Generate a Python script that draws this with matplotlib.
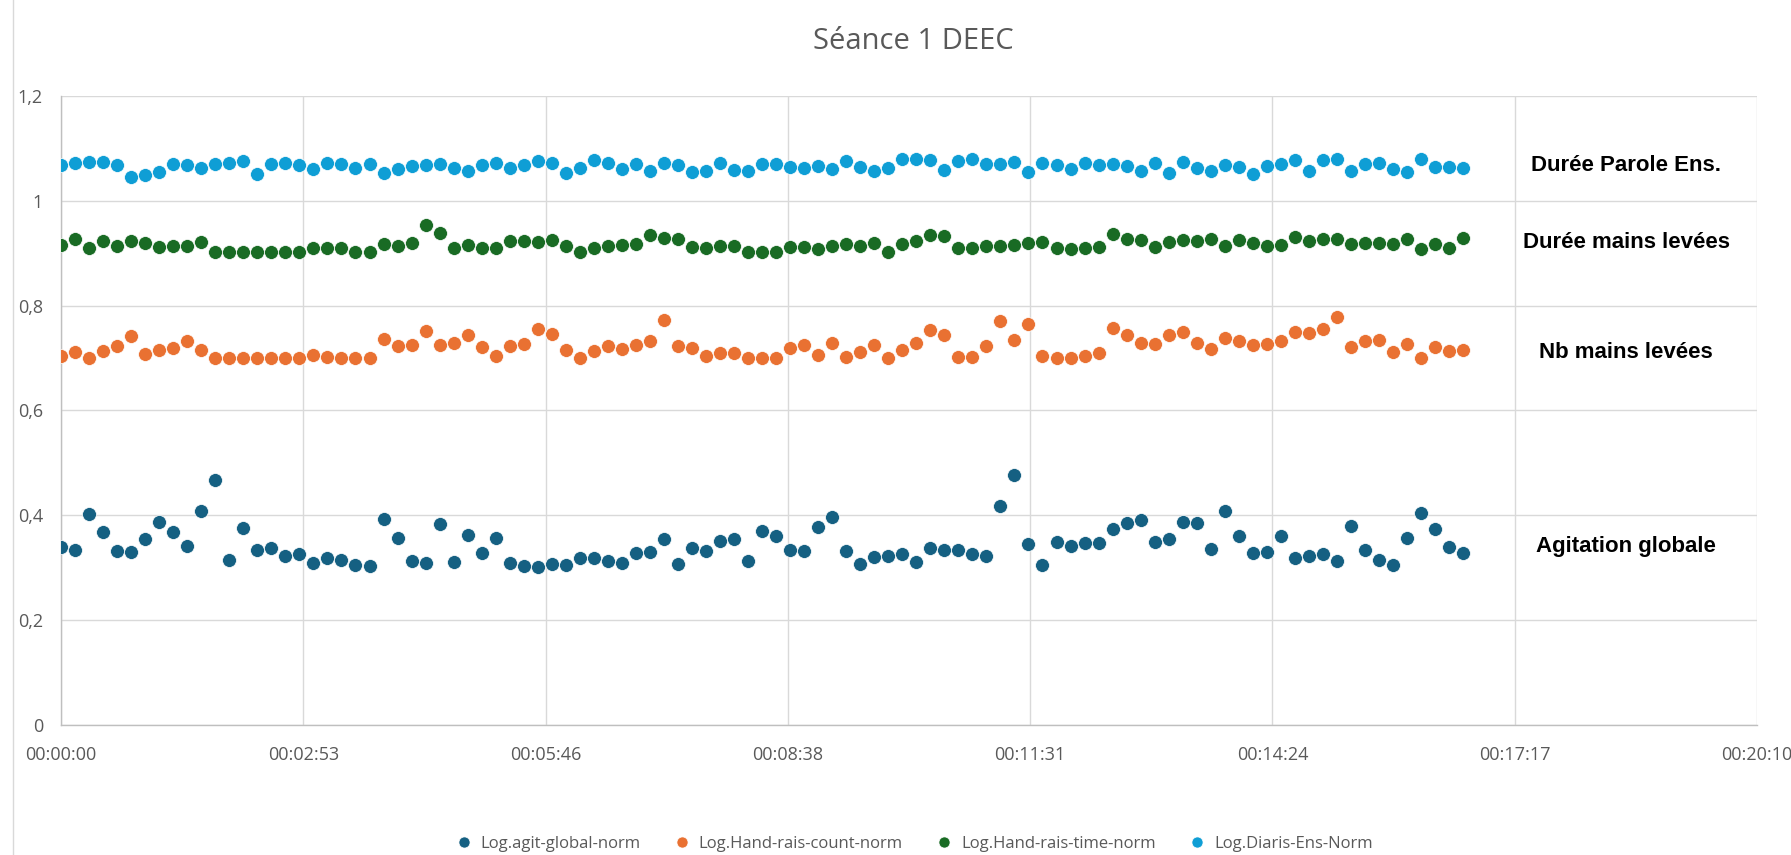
import numpy as np
import matplotlib
matplotlib.use("Agg")
import matplotlib.pyplot as plt
from matplotlib.ticker import MultipleLocator, FuncFormatter
from matplotlib.lines import Line2D

# valeurs (un point toutes les 10 s)
agit = [0.340, 0.333, 0.402, 0.368, 0.332, 0.329, 0.354, 0.387, 0.368, 0.341,
        0.407, 0.468, 0.315, 0.375, 0.333, 0.338, 0.322, 0.326, 0.309, 0.319,
        0.315, 0.305, 0.302, 0.392, 0.357, 0.312, 0.308, 0.383, 0.311, 0.362,
        0.327, 0.357, 0.309, 0.303, 0.301, 0.306, 0.305, 0.319, 0.319, 0.312,
        0.308, 0.328, 0.329, 0.355, 0.306, 0.338, 0.331, 0.351, 0.354, 0.313,
        0.369, 0.361, 0.334, 0.331, 0.378, 0.397, 0.332, 0.306, 0.321, 0.322,
        0.326, 0.311, 0.338, 0.333, 0.333, 0.326, 0.322, 0.418, 0.477, 0.345,
        0.304, 0.348, 0.341, 0.346, 0.346, 0.373, 0.385, 0.391, 0.348, 0.355,
        0.386, 0.385, 0.336, 0.408, 0.361, 0.327, 0.329, 0.360, 0.319, 0.322,
        0.326, 0.312, 0.380, 0.333, 0.315, 0.305, 0.356, 0.404, 0.373, 0.340,
        0.327]
hand_count = [0.704, 0.711, 0.699, 0.713, 0.722, 0.741, 0.708, 0.716, 0.719, 0.732,
              0.716, 0.699, 0.699, 0.699, 0.699, 0.699, 0.699, 0.699, 0.706, 0.702,
              0.700, 0.699, 0.699, 0.736, 0.722, 0.724, 0.752, 0.724, 0.728, 0.743,
              0.720, 0.703, 0.722, 0.726, 0.755, 0.745, 0.716, 0.699, 0.713, 0.722,
              0.717, 0.725, 0.733, 0.773, 0.722, 0.719, 0.704, 0.710, 0.710, 0.699,
              0.699, 0.699, 0.719, 0.724, 0.706, 0.729, 0.702, 0.711, 0.724, 0.699,
              0.716, 0.728, 0.754, 0.743, 0.701, 0.701, 0.722, 0.771, 0.735, 0.764,
              0.704, 0.699, 0.700, 0.703, 0.710, 0.757, 0.743, 0.729, 0.726, 0.744,
              0.750, 0.729, 0.717, 0.738, 0.732, 0.724, 0.726, 0.733, 0.749, 0.747,
              0.755, 0.778, 0.720, 0.732, 0.734, 0.712, 0.727, 0.699, 0.720, 0.714,
              0.716]
hand_time = [0.915, 0.927, 0.910, 0.924, 0.913, 0.923, 0.920, 0.912, 0.913, 0.913,
             0.922, 0.902, 0.902, 0.902, 0.902, 0.902, 0.902, 0.902, 0.909, 0.910,
             0.910, 0.902, 0.902, 0.917, 0.913, 0.919, 0.954, 0.938, 0.910, 0.916,
             0.910, 0.910, 0.923, 0.924, 0.921, 0.925, 0.913, 0.902, 0.910, 0.913,
             0.915, 0.917, 0.935, 0.929, 0.927, 0.912, 0.910, 0.913, 0.913, 0.902,
             0.902, 0.902, 0.912, 0.912, 0.908, 0.914, 0.917, 0.913, 0.919, 0.902,
             0.917, 0.923, 0.934, 0.932, 0.910, 0.910, 0.913, 0.914, 0.915, 0.919,
             0.922, 0.909, 0.908, 0.910, 0.912, 0.936, 0.928, 0.925, 0.912, 0.922,
             0.925, 0.923, 0.928, 0.913, 0.926, 0.919, 0.914, 0.916, 0.931, 0.924,
             0.927, 0.928, 0.917, 0.919, 0.919, 0.917, 0.927, 0.908, 0.918, 0.909,
             0.929]
diaris = [1.069, 1.073, 1.074, 1.075, 1.069, 1.045, 1.049, 1.055, 1.071, 1.068,
          1.062, 1.071, 1.073, 1.076, 1.051, 1.071, 1.073, 1.068, 1.061, 1.073,
          1.071, 1.063, 1.071, 1.054, 1.061, 1.066, 1.068, 1.071, 1.062, 1.056,
          1.069, 1.073, 1.063, 1.068, 1.076, 1.072, 1.053, 1.062, 1.078, 1.073,
          1.061, 1.070, 1.057, 1.073, 1.068, 1.055, 1.056, 1.072, 1.058, 1.057,
          1.071, 1.071, 1.064, 1.062, 1.067, 1.061, 1.076, 1.065, 1.057, 1.062,
          1.080, 1.079, 1.078, 1.058, 1.076, 1.080, 1.071, 1.070, 1.074, 1.055,
          1.073, 1.069, 1.061, 1.073, 1.069, 1.070, 1.066, 1.057, 1.073, 1.053,
          1.075, 1.063, 1.057, 1.068, 1.064, 1.051, 1.067, 1.070, 1.078, 1.056,
          1.077, 1.080, 1.057, 1.071, 1.073, 1.061, 1.055, 1.080, 1.065, 1.064,
          1.062]

step_s = 10
labels = ["Log.agit-global-norm", "Log.Hand-rais-count-norm",
          "Log.Hand-rais-time-norm", "Log.Diaris-Ens-Norm"]
colors = ["#156082", "#E97132", "#196B24", "#0F9ED5"]
notes = ["Agitation globale", "Nb mains levées", "Durée mains levées", "Durée Parole Ens."]
series = [agit, hand_count, hand_time, diaris]

# temps en fraction de jour, comme Excel
t = np.arange(len(agit)) * step_s / 86400.0

plt.rcParams['font.family'] = ['Open Sans', 'DejaVu Sans']

fig = plt.figure(figsize=(17.91, 8.55), dpi=100)
ax = fig.add_axes([0.0341, 0.1524, 0.981 - 0.0341, 0.8877 - 0.1524])

for y, c, lab in zip(series, colors, labels):
    ax.scatter(t, y, s=100, color=c, edgecolors='white', linewidths=0.5,
               label=lab, zorder=3)

ax.set_xlim(0, 0.014)
ax.set_ylim(0, 1.2)
ax.xaxis.set_major_locator(MultipleLocator(0.002))
ax.yaxis.set_major_locator(MultipleLocator(0.2))


def fmt_time(x, pos):
    s = int(round(x * 86400))
    return "%02d:%02d:%02d" % (s // 3600, (s % 3600) // 60, s % 60)


def fmt_val(v, pos):
    txt = ("%.1f" % v).rstrip('0').rstrip('.')
    return txt.replace('.', ',')


ax.xaxis.set_major_formatter(FuncFormatter(fmt_time))
ax.yaxis.set_major_formatter(FuncFormatter(fmt_val))
ax.grid(True, color='#D9D9D9', linewidth=1)
ax.set_axisbelow(True)
for sp in ['top', 'right']:
    ax.spines[sp].set_visible(False)
for sp in ['left', 'bottom']:
    ax.spines[sp].set_color('#BFBFBF')
    ax.spines[sp].set_linewidth(1)
ax.tick_params(length=0, labelsize=13, colors='#595959')
ax.tick_params(axis='x', pad=15)
ax.tick_params(axis='y', pad=13)

# étiquettes à droite
ys = [0.34, 0.71, 0.92, 1.067]
for note, yv in zip(notes, ys):
    ax.text(0.01292, yv, note, family=['Liberation Sans', 'DejaVu Sans'],
            fontweight='bold', fontsize=16, color='black', ha='center', va='center')

fig.text(0.51, 0.952, "Séance 1 DEEC", ha='center', va='center',
         fontsize=21, color='#595959')

handles = [Line2D([], [], marker='o', linestyle='', markersize=8, color=c,
                  markeredgecolor='white', markeredgewidth=0.5) for c in colors]
fig.legend(handles, labels, loc='center', bbox_to_anchor=(0.508, 0.013), ncol=4,
           frameon=False, fontsize=12, handletextpad=0.0, columnspacing=1.5,
           labelcolor='#595959')

# bordure du graphique
fig.add_artist(Line2D([0.007, 0.007], [0, 1], color='#D9D9D9', linewidth=1))

fig.savefig("out.png", dpi=100, facecolor='white')
